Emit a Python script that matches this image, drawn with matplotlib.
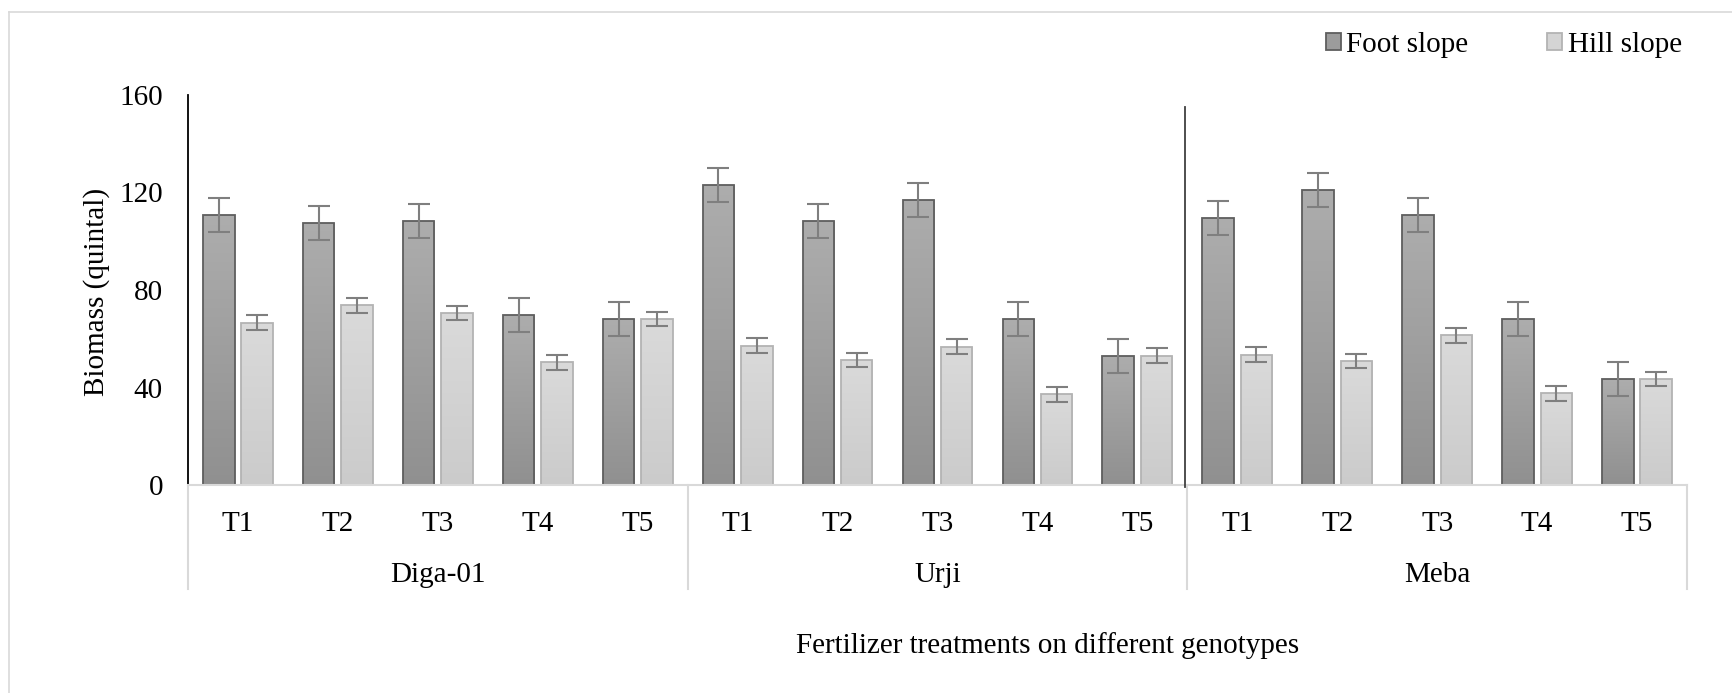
import numpy as np
import matplotlib
matplotlib.use("Agg")
import matplotlib.pyplot as plt
import matplotlib.transforms as mtransforms
from matplotlib.colors import LinearSegmentedColormap
from matplotlib.patches import Patch
from matplotlib.lines import Line2D

plt.rcParams["font.family"] = ["Liberation Serif", "DejaVu Serif"]
plt.rcParams["font.size"] = 21

genotypes = ["Diga-01", "Urji", "Meba"]
treatments = ["T1", "T2", "T3", "T4", "T5"]

# biomass (quintal), order: genotype -> treatment
foot_slope = [110.7, 107.5, 108.2, 69.8, 68.1,
              123.1, 108.3, 117.1, 68.0, 53.1,
              109.4, 121.2, 110.8, 68.0, 43.5]
hill_slope = [66.6, 73.7, 70.6, 50.3, 68.1,
              57.2, 51.3, 56.8, 37.2, 53.1,
              53.5, 50.8, 61.4, 37.6, 43.5]
foot_err = [7.0, 7.0, 7.0, 7.0, 7.0,
            7.0, 7.0, 7.0, 7.0, 7.0,
            7.0, 7.0, 7.0, 7.0, 7.0]
hill_err = [3.0, 3.0, 3.0, 3.0, 3.0,
            3.0, 3.0, 3.0, 3.0, 3.0,
            3.0, 3.0, 3.0, 3.0, 3.0]

W, H = 1733, 693
fig = plt.figure(figsize=(W / 100, H / 100), dpi=100)
ax = fig.add_axes([188 / W, 1 - 485 / H, 1499 / W, 390 / H])

x = np.arange(len(foot_slope))
bw, off = 0.315, 0.192


def gradient_fill(ax, bars, top, bottom):
    grad = np.linspace(0, 1, 256).reshape(-1, 1)
    cmap = LinearSegmentedColormap.from_list("fill", [bottom, top])
    for b in bars:
        x0, y0, w, h = b.get_x(), b.get_y(), b.get_width(), b.get_height()
        im = ax.imshow(grad, extent=[x0, x0 + w, y0, y0 + h], origin="lower",
                       cmap=cmap, aspect="auto", zorder=1.9)
        im.set_clip_path(b)


foot = ax.bar(x - off, foot_slope, bw, facecolor="none", edgecolor="#5e5e5e",
              linewidth=1.3, zorder=2)
hill = ax.bar(x + off, hill_slope, bw, facecolor="none", edgecolor="#b3b3b3",
              linewidth=1.3, zorder=2)
gradient_fill(ax, foot, "#adadad", "#909090")
gradient_fill(ax, hill, "#dadada", "#cbcbcb")

err_kw = dict(fmt="none", ecolor="#7f7f7f", elinewidth=1.5, capsize=8,
              capthick=1.5, zorder=3)
ax.errorbar(x - off, foot_slope, yerr=foot_err, **err_kw)
ax.errorbar(x + off, hill_slope, yerr=hill_err, **err_kw)

ax.set_xlim(-0.5, len(x) - 0.5)
ax.set_ylim(0, 160)
ax.set_yticks([0, 40, 80, 120, 160])
ax.tick_params(axis="y", length=0, pad=18)
ax.set_xticks([])
for s in ["top", "right"]:
    ax.spines[s].set_visible(False)
ax.spines["left"].set_color("black")
ax.spines["left"].set_linewidth(1.3)
ax.spines["bottom"].set_color("#d9d9d9")
ax.spines["bottom"].set_linewidth(1.5)

# two-level category axis
trans = mtransforms.blended_transform_factory(ax.transData, ax.transAxes)
ntr = len(treatments)
for i in range(len(x)):
    ax.text(x[i], -0.117, treatments[i % ntr], transform=trans,
            ha="center", va="baseline")
for g, name in enumerate(genotypes):
    ax.text(g * ntr + (ntr - 1) / 2, -0.248, name, transform=trans,
            ha="center", va="baseline")
for b in range(len(genotypes) + 1):
    ax.add_line(Line2D([b * ntr - 0.5] * 2, [0, -0.267], transform=trans,
                       color="#d9d9d9", linewidth=1.5, clip_on=False))

# divider between Urji and Meba
ax.plot([9.48, 9.48], [-1, 155], color="#404040", linewidth=1.3,
        clip_on=False, zorder=4)

fig.text(97 / W, 1 - 292 / H, "Biomass (quintal)", rotation=90,
         ha="center", va="center")
fig.text(1048 / W, 1 - 653 / H, "Fertilizer treatments on different genotypes",
         ha="center", va="baseline")

handles = [Patch(facecolor="#9c9c9c", edgecolor="#5e5e5e", linewidth=1.3),
           Patch(facecolor="#d4d4d4", edgecolor="#b3b3b3", linewidth=1.3)]
fig.legend(handles, ["Foot slope", "Hill slope"], ncol=2, frameon=False,
           loc="center left", bbox_to_anchor=(1326 / W, 1 - 45 / H),
           borderpad=0, borderaxespad=0, handlelength=0.5, handleheight=0.5,
           handletextpad=0.2, columnspacing=2.7)

# chart area border
fig.add_artist(Line2D([9 / W, 9 / W], [0, 1 - 12 / H], color="#d9d9d9",
                      linewidth=1.2))
fig.add_artist(Line2D([9 / W, 1], [1 - 12 / H, 1 - 12 / H], color="#d9d9d9",
                      linewidth=1.2))

fig.savefig("out.png", dpi=100)
